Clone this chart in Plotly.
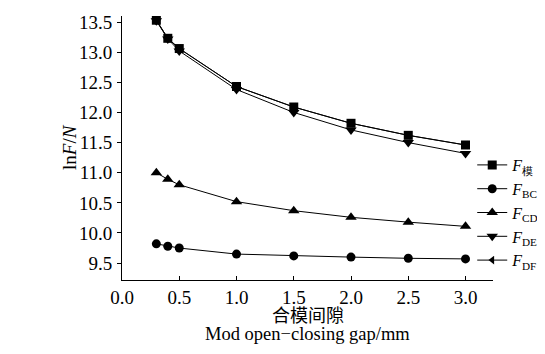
import plotly.graph_objects as go

gap = [0.3, 0.4, 0.5, 1.0, 1.5, 2.0, 2.5, 3.0]
f_mould = [13.53, 13.23, 13.06, 12.43, 12.09, 11.82, 11.62, 11.46]
f_bc = [9.82, 9.78, 9.75, 9.65, 9.62, 9.60, 9.58, 9.57]
f_cd = [11.00, 10.89, 10.80, 10.52, 10.37, 10.26, 10.18, 10.11]
f_de = [13.52, 13.22, 13.02, 12.38, 12.00, 11.71, 11.50, 11.32]
f_df = [13.53, 13.23, 13.06, 12.43, 12.09, 11.82, 11.62, 11.46]

names = ["<i>F</i><sub>模</sub>", "<i>F</i><sub>BC</sub>", "<i>F</i><sub>CD</sub>",
         "<i>F</i><sub>DE</sub>", "<i>F</i><sub>DF</sub>"]
series = [f_mould, f_bc, f_cd, f_de, f_df]
symbols = ["square", "circle", "triangle-up", "triangle-down", "triangle-left"]
sizes = [9, 9, 10, 10, 7.5]

fig = go.Figure()
order = [4, 3, 2, 1, 0]
for i in order:
    fig.add_trace(go.Scatter(
        x=gap, y=series[i], name=names[i], mode="lines+markers",
        line=dict(color="black", width=1),
        marker=dict(symbol=symbols[i], size=sizes[i], color="black"),
        legendrank=i + 1,
    ))

font = "Liberation Serif, Times New Roman, serif"
fig.update_layout(
    width=537, height=346,
    margin=dict(l=114, r=52, t=8, b=74, autoexpand=False),
    plot_bgcolor="white", paper_bgcolor="white",
    font=dict(family=font, size=19, color="black"),
    showlegend=True,
    legend=dict(x=0.944, y=0.5, xanchor="left", yanchor="top",
                bgcolor="rgba(0,0,0,0)", itemwidth=30,
                font=dict(size=16), tracegroupgap=0),
    xaxis=dict(range=[0, 3.24], tickvals=[0, 0.5, 1.0, 1.5, 2.0, 2.5, 3.0],
               tickformat=".1f", showline=True, linecolor="black", linewidth=1,
               ticks="inside", ticklen=4, tickcolor="black", showgrid=False,
               zeroline=False, automargin=False, ticklabelstandoff=0,
               tickfont=dict(size=19)),
    yaxis=dict(range=[9.22, 13.6], tickvals=[9.5, 10.0, 10.5, 11.0, 11.5, 12.0, 12.5, 13.0, 13.5],
               tickformat=".1f", showline=True, linecolor="black", linewidth=1,
               ticks="outside", ticklen=4, tickcolor="black", showgrid=False,
               zeroline=False, automargin=False, ticklabelstandoff=1,
               tickfont=dict(size=19)),
    annotations=[
        dict(text="合模间隙", xref="paper", yref="paper", x=0.5, y=-0.13,
             xanchor="center", yanchor="middle", showarrow=False,
             font=dict(size=18, family="Noto Sans CJK SC, serif")),
        dict(text="Mod open\u2212closing gap/mm", xref="paper", yref="paper", x=0.5, y=-0.203,
             xanchor="center", yanchor="middle", showarrow=False, font=dict(size=18.5)),
        dict(text="ln<i>F</i>/<i>N</i>", xref="paper", yref="paper", x=-0.14, y=0.504,
             xanchor="center", yanchor="middle", showarrow=False, textangle=-90,
             font=dict(size=19)),
    ],
)

fig.write_html("out.html")
